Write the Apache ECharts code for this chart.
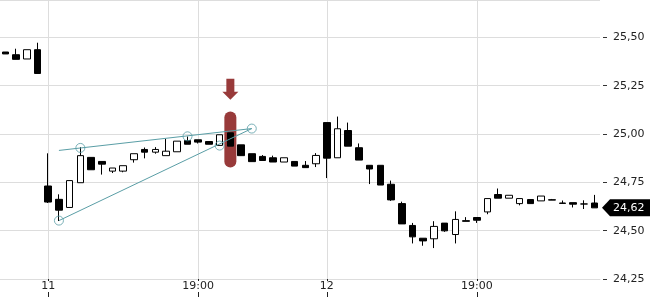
<!DOCTYPE html>
<html><head><meta charset="utf-8">
<script src="https://cdn.jsdelivr.net/npm/echarts@6/dist/echarts.min.js"></script>
<style>html,body{margin:0;padding:0;background:#fff}#c{width:650px;height:300px}</style>
</head><body><div id="c"></div>
<script>
const categories = [
  '10 21:00','10 21:15','10 21:30','10 21:45',
  '11 15:30','11 15:45','11 16:00','11 16:15','11 16:30','11 16:45','11 17:00','11 17:15','11 17:30','11 17:45',
  '11 18:00','11 18:15','11 18:30','11 18:45','11 19:00','11 19:15','11 19:30','11 19:45','11 20:00','11 20:15',
  '11 20:30','11 20:45','11 21:00','11 21:15','11 21:30','11 21:45',
  '12 15:30','12 15:45','12 16:00','12 16:15','12 16:30','12 16:45','12 17:00','12 17:15','12 17:30','12 17:45',
  '12 18:00','12 18:15','12 18:30','12 18:45','12 19:00','12 19:15','12 19:30','12 19:45','12 20:00','12 20:15',
  '12 20:30','12 20:45','12 21:00','12 21:15','12 21:30','12 21:45'
];
const openVals = [25.424,25.41,25.388,25.436,24.731,24.662,24.62,24.748,24.879,24.858,
  24.808,24.808,24.867,24.92,24.906,24.888,24.908,24.966,24.97,24.961,
  24.941,25.006,24.944,24.898,24.884,24.877,24.855,24.858,24.838,24.846,
  25.059,24.877,25.018,24.929,24.838,24.838,24.74,24.64,24.527,24.461,
  24.458,24.539,24.48,24.548,24.568,24.597,24.687,24.668,24.64,24.661,
  24.654,24.66,24.643,24.645,24.638,24.643];
const closeVals = [25.414,25.386,25.436,25.313,24.648,24.606,24.759,24.888,24.815,24.844,
  24.824,24.836,24.898,24.906,24.92,24.911,24.963,24.947,24.958,24.947,
  24.996,24.937,24.888,24.857,24.863,24.855,24.877,24.834,24.826,24.889,
  24.875,25.027,24.937,24.865,24.819,24.736,24.659,24.535,24.468,24.447,
  24.522,24.499,24.558,24.552,24.554,24.666,24.668,24.683,24.666,24.64,
  24.679,24.658,24.641,24.637,24.638,24.618];
const lowVals = [25.414,25.386,25.388,25.313,24.643,24.55,24.62,24.748,24.815,24.79,
  24.798,24.802,24.852,24.874,24.898,24.888,24.908,24.947,24.951,24.947,
  24.941,24.937,24.888,24.857,24.863,24.855,24.855,24.834,24.826,24.829,
  24.772,24.877,24.937,24.865,24.741,24.736,24.654,24.535,24.434,24.422,
  24.41,24.494,24.434,24.548,24.54,24.585,24.668,24.668,24.631,24.64,
  24.654,24.658,24.641,24.62,24.612,24.618];
const highVals = [25.424,25.441,25.436,25.472,24.9,24.688,24.759,24.932,24.879,24.858,
  24.824,24.836,24.898,24.93,24.932,24.975,24.963,24.987,24.97,24.961,
  24.996,25.006,24.944,24.898,24.891,24.888,24.877,24.858,24.86,24.901,
  25.059,25.09,25.059,24.951,24.838,24.838,24.759,24.65,24.54,24.461,
  24.549,24.539,24.6,24.57,24.568,24.666,24.718,24.683,24.666,24.661,
  24.679,24.664,24.656,24.645,24.657,24.685];

// trendline drawings (category index, price)
const upperLineIdx = [5, 23];
const upperLineVals = [24.915, 25.028];
const lowerLineIdx = [5, 23];
const lowerLineVals = [24.552, 25.028];
const anchorIdx = [5, 7, 17, 20, 23];
const anchorVals = [24.552, 24.928, 24.988, 24.94, 25.028];

// highlighted candle marker
const highlightIdx = 21;
const highlightRange = [24.827, 25.116];
const arrowVal = 25.232;

const lastClose = closeVals[closeVals.length - 1];
const fmt = v => v.toFixed(2).replace('.', ',');
const FONT = 'DejaVu Sans';

const candleData = openVals.map((o, i) => [o, closeVals[i], lowVals[i], highVals[i]]);
const isLabel = (i, v) => /\s(15:30|19:00)$/.test(v);

const chart = echarts.init(document.getElementById('c'), null, {renderer: 'canvas'});
chart.setOption({
  animation: false,
  backgroundColor: '#fff',
  grid: {left: 0, right: 50, top: -1, bottom: 21, containLabel: false},
  xAxis: {
    type: 'category',
    data: categories,
    boundaryGap: true,
    axisLine: {show: true, lineStyle: {color: '#ddd', width: 1}},
    axisTick: {show: true, alignWithLabel: true, interval: isLabel, length: 18, lineStyle: {color: '#222', width: 1}},
    axisLabel: {
      interval: isLabel, margin: 2, color: '#222', fontFamily: FONT, fontSize: 11,
      backgroundColor: '#fff', padding: [0, 1],
      formatter: v => { const p = v.split(' '); return p[1] === '15:30' ? p[0] : p[1]; }
    },
    splitLine: {show: true, alignWithLabel: true, interval: isLabel, lineStyle: {color: '#ddd', width: 1}}
  },
  yAxis: {
    type: 'value', position: 'right', offset: 3,
    min: 24.25, max: 25.693, interval: 0.25, scale: true,
    axisLine: {show: false},
    axisTick: {show: true, length: 4, lineStyle: {color: '#333'}},
    axisLabel: {margin: 10, color: '#222', fontFamily: FONT, fontSize: 11, showMaxLabel: false, formatter: fmt},
    splitLine: {show: true, lineStyle: {color: '#ddd', width: 1}}
  },
  series: [
    {
      type: 'custom', z: 1, silent: true,
      data: [[highlightIdx, highlightRange[0], highlightRange[1]]],
      encode: {x: 0, y: [1, 2]},
      renderItem: (params, api) => {
        const x = api.value(0);
        const top = api.coord([x, api.value(2)]);
        const bot = api.coord([x, api.value(1)]);
        return {type: 'rect', shape: {x: top[0] - 6, y: top[1], width: 12, height: bot[1] - top[1], r: 6},
                style: {fill: '#983a3a'}};
      }
    },
    {
      type: 'scatter', z: 1, silent: true,
      data: [[highlightIdx, arrowVal]],
      symbol: 'path://M4,0 L12,0 L12,13 L16,13 L8,21 L0,13 L4,13 Z',
      symbolSize: [16, 21], symbolKeepAspect: false,
      itemStyle: {color: '#983a3a', opacity: 1}
    },
    {
      type: 'candlestick', z: 2,
      data: candleData,
      barWidth: 7,
      itemStyle: {color: '#ffffff', color0: '#000000', borderColor: '#000000', borderColor0: '#000000', borderColorDoji: '#000000', borderWidth: 1}
    },
    {
      type: 'line', z: 3, silent: true, symbol: 'none',
      data: upperLineIdx.map((x, i) => [categories[x], upperLineVals[i]]),
      lineStyle: {color: '#5a9ea6', width: 1}
    },
    {
      type: 'line', z: 3, silent: true, symbol: 'none',
      data: lowerLineIdx.map((x, i) => [categories[x], lowerLineVals[i]]),
      lineStyle: {color: '#5a9ea6', width: 1}
    },
    {
      type: 'scatter', z: 4, silent: true,
      data: anchorIdx.map((x, i) => [categories[x], anchorVals[i]]),
      symbol: 'circle', symbolSize: 9,
      itemStyle: {color: 'rgba(255,255,255,0)', borderColor: '#5a9ea6', borderWidth: 1}
    }
  ]
});

const yPix = chart.convertToPixel({yAxisIndex: 0}, lastClose);
const gridRight = 650 - 50;
chart.setOption({
  graphic: [
    {type: 'polygon', z: 100,
     shape: {points: [[gridRight + 2, yPix], [gridRight + 10, yPix - 8.5], [650, yPix - 8.5], [650, yPix + 8.5], [gridRight + 10, yPix + 8.5]]},
     style: {fill: '#000'}},
    {type: 'text', z: 101, x: gridRight + 13, y: yPix,
     style: {text: fmt(lastClose), fill: '#fff', font: '11px "DejaVu Sans"', textVerticalAlign: 'middle', textAlign: 'left'}}
  ]
});
</script></body></html>
